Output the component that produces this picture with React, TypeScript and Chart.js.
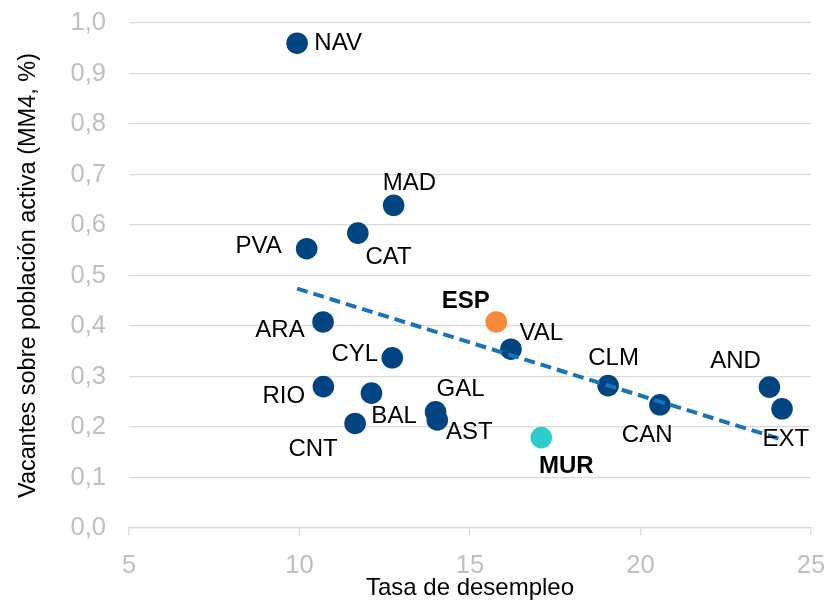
import { useEffect, useRef } from 'react';
import { Chart, registerables } from 'chart.js';

Chart.register(...registerables);

// ---- Data ----
const regions = ['NAV', 'MAD', 'CAT', 'PVA', 'ARA', 'ESP', 'VAL', 'CYL', 'RIO', 'BAL', 'GAL', 'AST', 'CNT', 'MUR', 'CLM', 'CAN', 'AND', 'EXT'];
const unemployment = [9.93, 12.76, 11.71, 10.21, 10.69, 15.77, 16.2, 12.72, 10.7, 12.11, 13.99, 14.04, 11.63, 17.09, 19.05, 20.57, 23.78, 24.15];
const vacancies = [0.96, 0.639, 0.584, 0.553, 0.408, 0.408, 0.354, 0.337, 0.28, 0.267, 0.23, 0.214, 0.207, 0.179, 0.282, 0.244, 0.279, 0.236];
const trendX = [9.93, 24.15];
const trendY = [0.474, 0.175];
const xTicks = [5, 10, 15, 20, 25];
const yTicks = [0, 0.1, 0.2, 0.3, 0.4, 0.5, 0.6, 0.7, 0.8, 0.9, 1.0];
const xTitle = 'Tasa de desempleo';
const yTitle = 'Vacantes sobre población activa (MM4, %)';

// ---- Styles ----
const FONT = '"Liberation Sans", Arial, Helvetica, sans-serif';
const colorDefault = '#004481';
const colorSpecial: Record<string, string> = { ESP: '#F7893B', MUR: '#2DCCCD' };
const boldLabels = ['ESP', 'MUR'];
// label centre offset from point centre (px)
const labelOffsets: Record<string, [number, number]> = {
  NAV: [41, -1.6], MAD: [15.7, -24], CAT: [30.8, 22], PVA: [-48, -4], ARA: [-43, 6],
  ESP: [-30.4, -22.3], VAL: [30.4, -17.6], CYL: [-37.5, -5.8], RIO: [-39.5, 8.3],
  BAL: [22.6, 21.3], GAL: [25, -24], AST: [32, 10], CNT: [-42, 24.3], MUR: [25, 26.5],
  CLM: [5.5, -29.3], CAN: [-12.8, 28.5], AND: [-33.9, -27.8], EXT: [3.9, 28.5],
};
const LABEL_SIZE = 24;
const TICK_SIZE = 25.5;
const TITLE_SIZE = 24;
const Y_TITLE_SIZE = 23.5;

const labelPlugin = {
  id: 'pointLabels',
  afterDatasetsDraw(chart: any) {
    const meta = chart.getDatasetMeta(1);
    const ctx = chart.ctx;
    ctx.save();
    ctx.textAlign = 'center';
    ctx.textBaseline = 'alphabetic';
    ctx.fillStyle = '#000000';
    meta.data.forEach((el: any, i: number) => {
      const name = regions[i];
      const [dx, dy] = labelOffsets[name] || [0, -20];
      const bold = boldLabels.includes(name);
      ctx.font = `${bold ? 'bold ' : ''}${LABEL_SIZE}px ${FONT}`;
      ctx.fillText(name, el.x + dx, el.y + dy + LABEL_SIZE * 0.358);
    });
    ctx.restore();
  },
};

export default function App() {
  const ref = useRef<HTMLCanvasElement>(null);

  useEffect(() => {
    document.body.style.margin = '0';
    const canvas = ref.current;
    if (!canvas) return;
    const chart = new Chart(canvas, {
      type: 'scatter',
      data: {
        datasets: [
          {
            type: 'line',
            label: 'trend',
            data: trendX.map((x, i) => ({ x, y: trendY[i] })),
            borderColor: '#1973B8',
            borderWidth: 4,
            borderDash: [11, 6],
            borderCapStyle: 'butt',
            pointRadius: 0,
            fill: false,
            order: 0,
          } as any,
          {
            type: 'scatter',
            label: 'regions',
            data: regions.map((_, i) => ({ x: unemployment[i], y: vacancies[i] })),
            backgroundColor: regions.map((r) => colorSpecial[r] || colorDefault),
            borderWidth: 0,
            pointRadius: 10.8,
            pointHoverRadius: 10.8,
            order: 1,
          },
        ],
      },
      options: {
        animation: false,
        responsive: false,
        events: [],
        layout: { padding: { top: 23, right: 16, left: 0, bottom: 0 } },
        plugins: { legend: { display: false }, tooltip: { enabled: false } },
        scales: {
          x: {
            type: 'linear',
            min: 5,
            max: 25,
            afterBuildTicks: (scale: any) => {
              scale.ticks = xTicks.map((v) => ({ value: v }));
            },
            afterFit: (scale: any) => {
              scale.height = 74;
              scale.paddingLeft = 0;
              scale.paddingRight = 0;
              scale.paddingTop = 0;
              scale.paddingBottom = 0;
            },
            grid: { drawOnChartArea: false, drawTicks: true, tickLength: 7, color: '#d9d9d9', lineWidth: 1.3 },
            border: { display: true, color: '#d9d9d9', width: 1.3 },
            ticks: {
              padding: 16,
              maxRotation: 0,
              color: '#bfbfbf',
              font: { family: FONT, size: TICK_SIZE },
              callback: (v: any) => String(v),
            },
            title: {
              display: true,
              text: xTitle,
              color: '#000000',
              font: { family: FONT, size: TITLE_SIZE },
              padding: { top: 0, bottom: -1 },
            },
          },
          y: {
            type: 'linear',
            min: 0,
            max: 1,
            afterBuildTicks: (scale: any) => {
              scale.ticks = yTicks.map((v) => ({ value: v }));
            },
            afterFit: (scale: any) => {
              scale.width = 129;
              scale.paddingLeft = 0;
              scale.paddingRight = 0;
              scale.paddingTop = 0;
              scale.paddingBottom = 0;
            },
            grid: { drawTicks: false, color: '#d9d9d9', lineWidth: 1.3 },
            border: { display: false },
            ticks: {
              padding: 23,
              color: '#bfbfbf',
              font: { family: FONT, size: TICK_SIZE },
              callback: (v: any) => Number(v).toFixed(1).replace('.', ','),
            },
            title: {
              display: true,
              text: yTitle,
              color: '#000000',
              font: { family: FONT, size: Y_TITLE_SIZE },
              padding: { top: 14, bottom: 0 },
            },
          },
        },
      },
      plugins: [labelPlugin],
    } as any);
    return () => chart.destroy();
  }, []);

  return (
    <div style={{ width: 827, height: 602 }}>
      <canvas ref={ref} width={827} height={602} style={{ display: 'block' }} />
    </div>
  );
}
